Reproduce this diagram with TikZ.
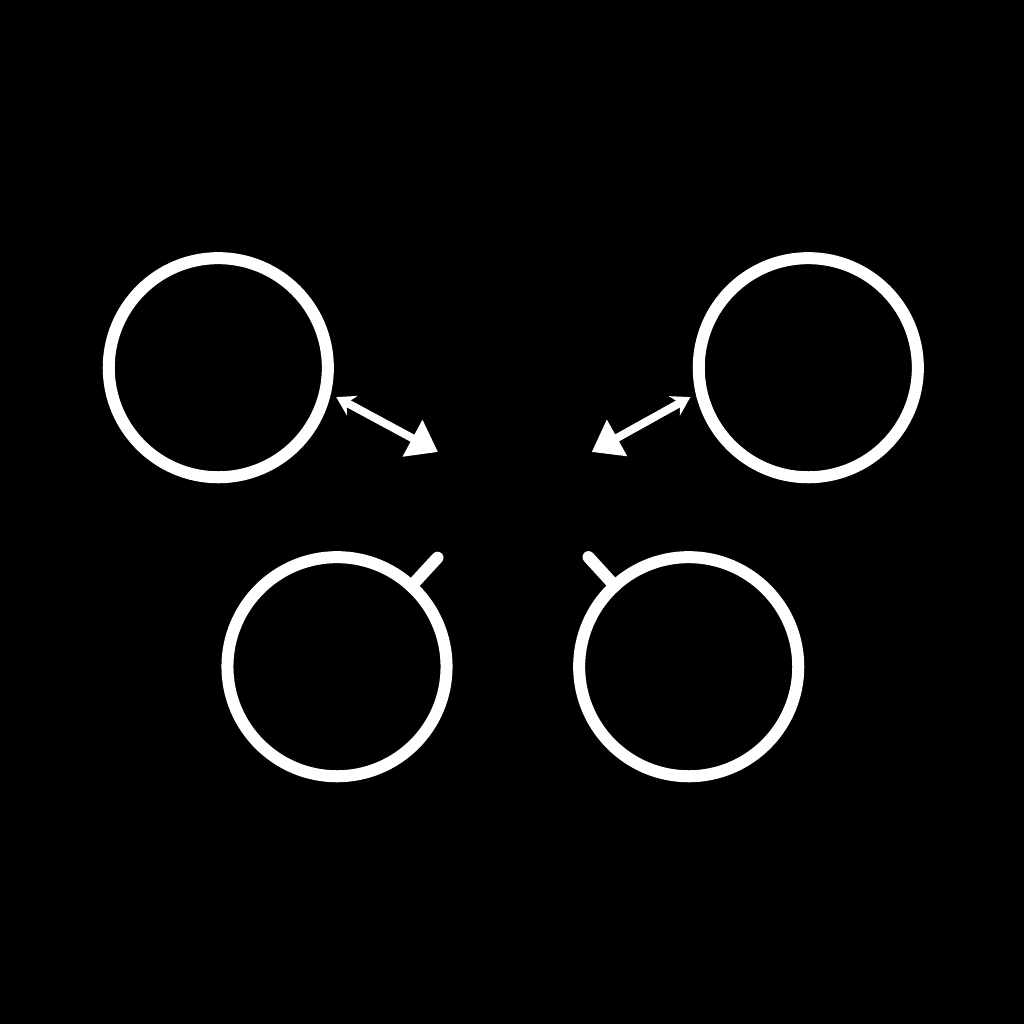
\documentclass[tikz,border=0pt]{standalone}
\usetikzlibrary{arrows.meta}

\tikzstyle{ring} = [circle,draw=white,line width=0.12cm,minimum size=2.19cm,inner sep=0pt,outer sep=0.12cm]
\tikzstyle{pointer} = [draw=white,line width=0.08cm,{Stealth[length=0.18cm,width=0.22cm]}-{Triangle[length=0.29cm,width=0.4cm]}]
\tikzstyle{stub} = [draw=white,line width=0.12cm,line cap=round,shorten <=-0.12cm]

\begin{document}
\begin{tikzpicture}[x=0.01cm,y=-0.01cm]

	\fill[black] (0,0) rectangle (1024,1024);

	\node (c_tl) [ring] at (218.3,367.7) {};
	\node (c_tr) [ring] at (808.3,367.7) {};
	\node (c_bl) [ring] at (337,666.7) {};
	\node (c_br) [ring] at (688.7,666.7) {};

	\coordinate (p_l) at (438,452);
	\coordinate (p_r) at (591.7,452);
	\coordinate (s_bl) at (437.5,557.7);
	\coordinate (s_br) at (588.5,557.1);

	\path
		(c_tl.-14.3) edge[pointer] (p_l)
		(c_tr.-166.8) edge[pointer] (p_r)

		(c_bl) edge[stub] (s_bl)
		(c_br) edge[stub] (s_br)
		;

\end{tikzpicture}
\end{document}
